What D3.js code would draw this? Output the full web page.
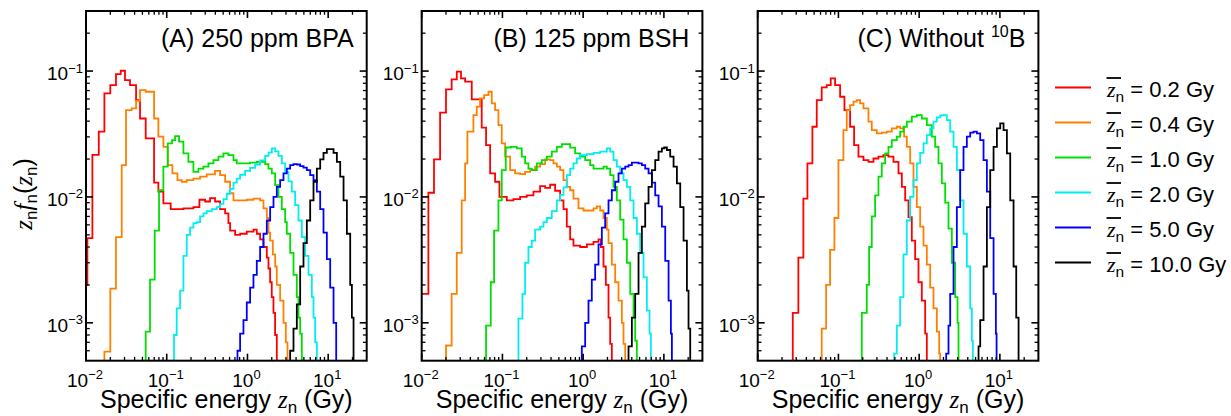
<!DOCTYPE html>
<html><head><meta charset="utf-8">
<script src="https://cdn.jsdelivr.net/npm/d3@7/dist/d3.min.js"></script>
<style>
body{margin:0;background:#fff}
svg{display:block}
text{font-family:"Liberation Sans",Arial,Helvetica,sans-serif;fill:#000}
.it{font-family:"Liberation Serif","Times New Roman",serif;font-style:italic}
</style>
</head><body>
<svg id="chart" width="1231" height="416"></svg>
<script>
// ---------------- data ----------------
const xTickExps = [-2, -1, 0, 1];
const yTickExps = [-3, -2, -1];
const legendDoses = ["0.2", "0.4", "1.0", "2.0", "5.0", "10.0"];
const seriesColors = ["#ff0000", "#ff8000", "#00e000", "#00eeee", "#0000ff", "#000000"];
const panelTitleMain = ["(A) 250 ppm BPA", "(B) 125 ppm BSH", "(C) Without "];
const panelTitleSup = ["", "", "10"];
const panelTitleTail = ["", "", "B"];

// [bin left edge z (Gy), z f(z)]
const A_red = [[0.0097,0.0020],[0.0104,0.0047],[0.0120,0.0216],[0.0144,0.033],[0.0169,0.0665],[0.0200,0.0774],[0.0235,0.0947],[0.0269,0.1006],[0.0304,0.0848],[0.0351,0.0774],[0.0417,0.0588],[0.0467,0.042],[0.0549,0.0292],[0.0697,0.0130],[0.0788,0.0110],[0.0909,0.0089],[0.112,0.0080],[0.161,0.0081],[0.214,0.0083],[0.254,0.0095],[0.299,0.0092],[0.344,0.0098],[0.397,0.0092],[0.458,0.0080],[0.529,0.0074],[0.581,0.0062],[0.610,0.0054],[0.703,0.0050],[0.811,0.0051],[0.981,0.0053],[1.19,0.0055],[1.305,0.0051],[1.435,0.0046],[1.579,0.0040],[1.737,0.0033],[1.82,0.0027],[1.91,0.0021],[2.0,0.0016],[2.1,0.0012],[2.2,0.0008],[2.31,0.0004]];
const A_orange = [[0.0169,0.00059],[0.0200,0.00187],[0.0235,0.0048],[0.0277,0.0179],[0.0313,0.049],[0.0368,0.0505],[0.0417,0.058],[0.0467,0.0706],[0.0549,0.0685],[0.0697,0.042],[0.0788,0.0301],[0.0909,0.025],[0.1029,0.0179],[0.1175,0.0154],[0.1356,0.0136],[0.1535,0.0132],[0.177,0.0136],[0.214,0.0140],[0.259,0.0145],[0.313,0.0151],[0.397,0.0161],[0.458,0.0149],[0.529,0.0132],[0.61,0.0107],[0.671,0.0094],[0.811,0.0094],[0.981,0.0095],[1.187,0.0097],[1.435,0.0094],[1.579,0.0081],[1.737,0.0068],[1.821,0.0052],[1.91,0.0045],[2.061,0.0035],[2.203,0.0028],[2.31,0.0020],[2.541,0.0015],[2.795,0.0010],[2.987,0.0007],[3.132,0.0004]];
const A_green = [[0.0549,0.00085],[0.0621,0.0022],[0.071,0.0054],[0.0803,0.0113],[0.0909,0.0174],[0.1029,0.0266],[0.1164,0.0283],[0.1268,0.0304],[0.1422,0.0275],[0.161,0.0222],[0.1856,0.019],[0.214,0.0158],[0.247,0.0168],[0.2848,0.0174],[0.3284,0.0185],[0.3789,0.0196],[0.4369,0.0209],[0.504,0.0222],[0.5813,0.0215],[0.671,0.0196],[0.7375,0.0185],[0.892,0.0185],[1.079,0.0187],[1.305,0.019],[1.505,0.019],[1.656,0.0182],[1.821,0.0168],[2.003,0.0154],[2.203,0.0124],[2.423,0.0100],[2.665,0.0080],[2.93,0.0063],[3.073,0.0051],[3.38,0.0036],[3.718,0.0024],[4.089,0.0016],[4.288,0.0011],[4.497,0.00082],[4.716,0.0004]];
const A_cyan = [[0.123,0.0008],[0.133,0.0013],[0.1463,0.0018],[0.161,0.0034],[0.177,0.005],[0.1947,0.0057],[0.214,0.0062],[0.2354,0.0063],[0.259,0.007],[0.2848,0.0074],[0.3133,0.0077],[0.3613,0.008],[0.4168,0.0083],[0.458,0.0088],[0.504,0.0096],[0.5546,0.0106],[0.61,0.0116],[0.671,0.013],[0.7375,0.014],[0.811,0.015],[0.9356,0.0161],[1.079,0.017],[1.245,0.0181],[1.435,0.0195],[1.656,0.0212],[1.821,0.0225],[2.003,0.0243],[2.203,0.023],[2.423,0.0212],[2.665,0.0185],[2.93,0.0157],[3.223,0.0133],[3.544,0.011],[3.898,0.0086],[4.288,0.0065],[4.716,0.0048],[5.187,0.0034],[5.705,0.0024],[6.274,0.0016],[6.58,0.0011],[6.9,0.0007],[7.237,0.0004]];
const A_blue = [[0.752,0.0006],[0.811,0.00082],[0.892,0.00105],[0.981,0.00145],[1.079,0.0019],[1.187,0.0024],[1.305,0.0031],[1.435,0.004],[1.579,0.0051],[1.737,0.0065],[1.91,0.0083],[2.101,0.01],[2.31,0.012],[2.541,0.0136],[2.795,0.0154],[3.073,0.0168],[3.38,0.0179],[3.718,0.0182],[4.089,0.0181],[4.497,0.0176],[4.946,0.0171],[5.44,0.0163],[5.984,0.0149],[6.58,0.0136],[7.237,0.011],[7.96,0.008],[8.751,0.0052],[9.627,0.0032],[10.59,0.0019],[11.65,0.001],[12.57,0.0004]];
const A_black = [[3.223,0.0004],[3.38,0.0006],[3.718,0.0009],[4.089,0.0014],[4.497,0.0028],[4.946,0.0043],[5.44,0.0065],[5.984,0.0094],[6.58,0.0132],[7.237,0.0168],[7.96,0.0199],[8.751,0.0224],[9.627,0.024],[10.59,0.024],[11.65,0.0224],[12.81,0.019],[14.09,0.0145],[15.5,0.0094],[17.04,0.0051],[18.74,0.002],[19.66,0.0011],[20.61,0.0004]];

const B_red = [[0.0095,0.0017],[0.0121,0.0108],[0.0142,0.0199],[0.0169,0.0467],[0.0200,0.0715],[0.0235,0.0859],[0.0272,0.0988],[0.0307,0.0875],[0.0345,0.0823],[0.0417,0.0595],[0.0481,0.0595],[0.0554,0.0355],[0.0627,0.0258],[0.0704,0.0154],[0.0811,0.0132],[0.0918,0.0100],[0.1132,0.0094],[0.1369,0.0096],[0.1656,0.0100],[0.2003,0.0103],[0.2423,0.011],[0.293,0.0122],[0.338,0.0118],[0.39,0.0125],[0.4497,0.0112],[0.5187,0.0094],[0.5705,0.008],[0.6274,0.0058],[0.69,0.0046],[0.7589,0.0041],[0.9181,0.004],[1.11,0.0042],[1.343,0.0044],[1.549,0.0046],[1.656,0.004],[1.787,0.0028],[1.91,0.002],[2.061,0.0011],[2.161,0.00068],[2.266,0.0004]];
const B_orange = [[0.0200,0.00066],[0.0235,0.0017],[0.0272,0.0036],[0.0313,0.0094],[0.0345,0.0185],[0.0368,0.033],[0.0437,0.0447],[0.0481,0.0521],[0.0528,0.0606],[0.0593,0.0645],[0.0671,0.0685],[0.0738,0.0553],[0.0811,0.049],[0.0892,0.0372],[0.0981,0.0266],[0.1079,0.0209],[0.1245,0.0163],[0.1436,0.0154],[0.1656,0.0152],[0.191,0.0158],[0.2203,0.0163],[0.2541,0.0174],[0.293,0.0182],[0.338,0.0199],[0.39,0.0196],[0.4286,0.0185],[0.4716,0.0174],[0.5187,0.0163],[0.5705,0.0136],[0.6274,0.012],[0.69,0.0113],[0.7589,0.0097],[0.8752,0.0081],[1.009,0.0078],[1.221,0.0078],[1.343,0.0081],[1.477,0.0084],[1.624,0.0078],[1.787,0.0068],[1.965,0.0055],[2.061,0.0043],[2.266,0.0029],[2.493,0.0021],[2.742,0.0015],[3.015,0.001],[3.162,0.00068],[3.317,0.0004]];
const B_green = [[0.0627,0.00095],[0.0717,0.0021],[0.0788,0.0054],[0.0892,0.0094],[0.0981,0.0163],[0.110,0.0247],[0.1268,0.025],[0.1506,0.0243],[0.1737,0.0209],[0.191,0.0185],[0.21,0.0168],[0.231,0.0163],[0.2665,0.0185],[0.3073,0.0196],[0.3545,0.0209],[0.4089,0.0229],[0.4716,0.025],[0.5439,0.0263],[0.6274,0.0263],[0.69,0.0246],[0.796,0.0222],[0.9181,0.0209],[1.059,0.0196],[1.221,0.0179],[1.343,0.0168],[1.549,0.0168],[1.787,0.0174],[1.965,0.0168],[2.161,0.0149],[2.377,0.012],[2.615,0.0094],[2.875,0.0066],[3.162,0.0046],[3.478,0.003],[3.825,0.0017],[4.207,0.0011],[4.412,0.00072],[4.627,0.0004]];
const B_cyan = [[0.158,0.00108],[0.177,0.0017],[0.191,0.003],[0.21,0.004],[0.231,0.0045],[0.2541,0.0055],[0.293,0.0058],[0.3224,0.0063],[0.3545,0.0068],[0.4089,0.0077],[0.4716,0.0094],[0.5187,0.0104],[0.5705,0.0119],[0.6274,0.0149],[0.69,0.0168],[0.7589,0.0185],[0.8346,0.0202],[0.9181,0.0215],[1.11,0.0219],[1.343,0.0224],[1.624,0.0229],[1.965,0.0243],[2.161,0.0229],[2.377,0.0196],[2.615,0.0174],[2.875,0.0154],[3.162,0.0136],[3.478,0.012],[3.825,0.0094],[4.207,0.0068],[4.627,0.0051],[5.089,0.0036],[5.597,0.0023],[6.156,0.00125],[6.643,0.00082],[6.9,0.0004]];
const B_blue = [[0.9181,0.0004],[0.9627,0.00065],[1.059,0.001],[1.164,0.0015],[1.28,0.0022],[1.408,0.0029],[1.549,0.0042],[1.704,0.0057],[1.874,0.0074],[2.061,0.0094],[2.266,0.0113],[2.493,0.0132],[2.742,0.0154],[3.015,0.0168],[3.317,0.0174],[3.648,0.0179],[4.012,0.0187],[4.412,0.0187],[4.853,0.0185],[5.338,0.0179],[5.87,0.0168],[6.456,0.0154],[7.1,0.013],[7.808,0.0103],[8.588,0.0084],[9.445,0.0058],[10.39,0.0031],[11.43,0.0015],[12.21,0.00082],[12.57,0.0004]];
const B_black = [[3.478,0.0004],[3.648,0.00065],[4.012,0.0011],[4.412,0.0017],[4.853,0.0036],[5.338,0.0058],[5.87,0.0089],[6.456,0.012],[7.1,0.0163],[7.808,0.0196],[8.588,0.0229],[9.445,0.0243],[10.1,0.0247],[10.89,0.0236],[11.98,0.0209],[13.18,0.0174],[14.5,0.0128],[15.94,0.0083],[17.53,0.0045],[19.28,0.0018],[20.2,0.0009],[21.2,0.0004]];

const C_red = [[0.0272,0.0012],[0.0319,0.0033],[0.0368,0.0097],[0.0413,0.0185],[0.0476,0.0361],[0.0539,0.0588],[0.0621,0.0742],[0.0717,0.0774],[0.0803,0.0875],[0.0909,0.0774],[0.1049,0.0625],[0.1187,0.049],[0.1395,0.0361],[0.1563,0.0258],[0.177,0.0209],[0.2042,0.0196],[0.2354,0.019],[0.2716,0.0202],[0.3133,0.0209],[0.3613,0.0215],[0.4168,0.0209],[0.4807,0.019],[0.5546,0.0154],[0.61,0.012],[0.671,0.0094],[0.7375,0.0069],[0.811,0.0045],[0.892,0.0032],[0.981,0.0021],[1.079,0.0015],[1.187,0.00082],[1.245,0.0004]];
const C_orange = [[0.0621,0.0009],[0.0704,0.002],[0.0788,0.0038],[0.0892,0.0068],[0.1,0.0196],[0.1153,0.034],[0.1268,0.049],[0.1395,0.0537],[0.1535,0.0571],[0.1688,0.0588],[0.1856,0.0553],[0.2042,0.0505],[0.2354,0.0396],[0.2589,0.034],[0.2986,0.032],[0.3444,0.0324],[0.3973,0.033],[0.4584,0.035],[0.5286,0.0361],[0.5813,0.035],[0.6517,0.0301],[0.7033,0.025],[0.7737,0.0185],[0.851,0.012],[0.9356,0.0083],[1.029,0.0058],[1.132,0.0041],[1.245,0.0029],[1.369,0.0019],[1.505,0.0013],[1.656,0.00085],[1.77,0.00057],[1.821,0.0004]];
const C_green = [[0.1947,0.0012],[0.2245,0.002],[0.2399,0.004],[0.2589,0.007],[0.2848,0.0103],[0.3133,0.0145],[0.3444,0.0185],[0.3789,0.0222],[0.4168,0.025],[0.4584,0.0283],[0.5286,0.0301],[0.5813,0.033],[0.6394,0.0361],[0.7033,0.0396],[0.811,0.0434],[0.9356,0.0447],[1.079,0.042],[1.245,0.0372],[1.435,0.0301],[1.579,0.025],[1.737,0.0185],[1.91,0.0128],[2.101,0.009],[2.31,0.0056],[2.541,0.003],[2.795,0.0016],[2.987,0.001],[3.073,0.0004]];
const C_cyan = [[0.49,0.00057],[0.5286,0.00095],[0.5813,0.0016],[0.6394,0.0035],[0.7033,0.0065],[0.7737,0.01],[0.851,0.0136],[0.9356,0.0185],[1.029,0.0224],[1.132,0.0266],[1.245,0.031],[1.369,0.035],[1.505,0.0396],[1.656,0.0428],[1.821,0.0444],[1.965,0.0447],[2.203,0.0408],[2.423,0.033],[2.665,0.025],[2.93,0.0163],[3.223,0.0094],[3.544,0.0051],[3.898,0.0028],[4.288,0.0013],[4.497,0.00072],[4.627,0.0004]];
const C_blue = [[2.161,0.00057],[2.31,0.00095],[2.423,0.0017],[2.665,0.004],[2.93,0.0083],[3.223,0.0163],[3.544,0.025],[3.898,0.0301],[4.288,0.0324],[4.716,0.033],[5.187,0.032],[5.705,0.0283],[6.274,0.0196],[6.9,0.011],[7.59,0.0047],[8.35,0.0017],[8.92,0.00082],[9.1,0.0004]];
const C_black = [[5.44,0.00065],[5.705,0.00105],[6.274,0.0028],[6.9,0.0083],[7.59,0.0163],[8.35,0.025],[9.18,0.035],[10.1,0.0384],[11.1,0.034],[12.21,0.0222],[13.43,0.0094],[14.77,0.0028],[15.94,0.0011],[17.04,0.0004]];

const panelSeries = [
  [A_red, A_orange, A_green, A_cyan, A_blue, A_black],
  [B_red, B_orange, B_green, B_cyan, B_blue, B_black],
  [C_red, C_orange, C_green, C_cyan, C_blue, C_black]
];

// ---------------- layout ----------------
const svg = d3.select("#chart");
const panelLeft = [86, 421.7, 757.7];
const pw = 280.7, ph = 349.7, pTop = 11;
const xDomain = [0.01, 30], yDomain = [5e-4, 0.3];
const floorVal = 3e-4;
const fontMain = 25, fontLegend = 22, fontTick = 19, fontSup = 13, fontSub = 17, fontLegSub = 15.5;

const x = d3.scaleLog().domain(xDomain).range([0, pw]);
const y = d3.scaleLog().domain(yDomain).range([ph, 0]);

const line = d3.line().x(d => x(d[0])).y(d => y(d[1])).curve(d3.curveStepAfter);

function minorTicks(exps, lo, hi) {
  const out = [];
  for (let e = exps[0] - 1; e <= exps[exps.length - 1] + 1; e++)
    for (let k = 2; k <= 9; k++) { const v = k * Math.pow(10, e); if (v > lo && v < hi) out.push(v); }
  return out;
}
const xMinor = minorTicks(xTickExps, xDomain[0], xDomain[1]);
const yMinor = minorTicks(yTickExps, yDomain[0], yDomain[1]);
const majLen = 7, minLen = 3.8;

panelSeries.forEach((series, pi) => {
  const g = svg.append("g").attr("transform", `translate(${panelLeft[pi]},${pTop})`);
  const cid = "clip" + pi;
  g.append("clipPath").attr("id", cid).append("rect").attr("width", pw).attr("height", ph);
  const dg = g.append("g").attr("clip-path", `url(#${cid})`);
  series.forEach((s, si) => {
    const pts = [[s[0][0], floorVal]].concat(s);
    dg.append("path").attr("d", line(pts)).attr("fill", "none")
      .attr("stroke", seriesColors[si]).attr("stroke-width", 1.8).attr("stroke-linejoin", "miter");
  });

  // ticks (inward, all four sides)
  const tg = g.append("g").attr("stroke", "#000");
  xTickExps.map(e => Math.pow(10, e)).forEach(v => {
    const xx = x(v);
    tg.append("line").attr("x1", xx).attr("x2", xx).attr("y1", ph).attr("y2", ph - majLen).attr("stroke-width", 1.6);
    tg.append("line").attr("x1", xx).attr("x2", xx).attr("y1", 0).attr("y2", majLen).attr("stroke-width", 1.6);
  });
  xMinor.forEach(v => {
    const xx = x(v);
    tg.append("line").attr("x1", xx).attr("x2", xx).attr("y1", ph).attr("y2", ph - minLen).attr("stroke-width", 1.3);
    tg.append("line").attr("x1", xx).attr("x2", xx).attr("y1", 0).attr("y2", minLen).attr("stroke-width", 1.3);
  });
  yTickExps.map(e => Math.pow(10, e)).forEach(v => {
    const yy = y(v);
    tg.append("line").attr("x1", 0).attr("x2", majLen).attr("y1", yy).attr("y2", yy).attr("stroke-width", 1.6);
    tg.append("line").attr("x1", pw).attr("x2", pw - majLen).attr("y1", yy).attr("y2", yy).attr("stroke-width", 1.6);
  });
  yMinor.forEach(v => {
    const yy = y(v);
    tg.append("line").attr("x1", 0).attr("x2", minLen).attr("y1", yy).attr("y2", yy).attr("stroke-width", 1.3);
    tg.append("line").attr("x1", pw).attr("x2", pw - minLen).attr("y1", yy).attr("y2", yy).attr("stroke-width", 1.3);
  });

  // frame
  g.append("rect").attr("width", pw).attr("height", ph).attr("fill", "none")
    .attr("stroke", "#000").attr("stroke-width", 2);

  // x tick labels
  xTickExps.forEach(e => {
    const t = g.append("text").attr("x", x(Math.pow(10, e)) - 1).attr("y", ph + 26)
      .attr("text-anchor", "middle").style("font-size", fontTick + "px");
    t.append("tspan").text("10");
    t.append("tspan").attr("dy", -7.5).style("font-size", fontSup + "px").text(e < 0 ? "\u2212" + (-e) : String(e));
  });
  // y tick labels
  yTickExps.forEach(e => {
    const t = g.append("text").attr("x", -3).attr("y", y(Math.pow(10, e)) + 9)
      .attr("text-anchor", "end").style("font-size", fontTick + "px");
    t.append("tspan").text("10");
    t.append("tspan").attr("dy", -7.5).style("font-size", fontSup + "px").text("\u2212" + (-e));
  });

  // panel title
  const tt = g.append("text").attr("x", pw - 13).attr("y", 36).attr("text-anchor", "end")
    .style("font-size", fontMain + "px");
  tt.append("tspan").text(panelTitleMain[pi]);
  if (panelTitleSup[pi]) {
    tt.append("tspan").attr("dy", -10).style("font-size", "16px").text(panelTitleSup[pi]);
    tt.append("tspan").attr("dy", 10).text(panelTitleTail[pi]);
  }

  // x axis title
  const xt = g.append("text").attr("x", pw / 2).attr("y", 397).attr("text-anchor", "middle")
    .style("font-size", fontMain + "px");
  xt.append("tspan").text("Specific energy ");
  xt.append("tspan").attr("class", "it").text("z");
  xt.append("tspan").attr("dy", 5).style("font-size", fontSub + "px").text("n");
  xt.append("tspan").attr("dy", -5).text(" (Gy)");
});

// y axis label
const yl = svg.append("text").attr("transform", "translate(32,194) rotate(-90)")
  .attr("text-anchor", "middle").style("font-size", fontMain + "px");
yl.append("tspan").attr("class", "it").text("z");
yl.append("tspan").attr("dy", 5).style("font-size", fontSub + "px").text("n");
yl.append("tspan").attr("dy", -5).attr("class", "it").text("f");
yl.append("tspan").attr("dy", 5).style("font-size", fontSub + "px").text("n");
yl.append("tspan").attr("dy", -5).text("(");
yl.append("tspan").attr("class", "it").text("z");
yl.append("tspan").attr("dy", 5).style("font-size", fontSub + "px").text("n");
yl.append("tspan").attr("dy", -5).text(")");

// legend
const lg = svg.append("g");
legendDoses.forEach((d, i) => {
  const ly = 87.5 + 35 * i;
  lg.append("line").attr("x1", 1055).attr("x2", 1091).attr("y1", ly).attr("y2", ly)
    .attr("stroke", seriesColors[i]).attr("stroke-width", 2);
  lg.append("line").attr("x1", 1106.5).attr("x2", 1121).attr("y1", ly - 9.5).attr("y2", ly - 9.5)
    .attr("stroke", "#000").attr("stroke-width", 1.8);
  const t = lg.append("text").attr("x", 1107).attr("y", ly + 9.5).style("font-size", fontLegend + "px");
  t.append("tspan").attr("class", "it").text("z");
  t.append("tspan").attr("dy", 5).style("font-size", fontLegSub + "px").text("n");
  t.append("tspan").attr("dy", -5).text(" = " + d + " Gy");
});
</script>
</body></html>
